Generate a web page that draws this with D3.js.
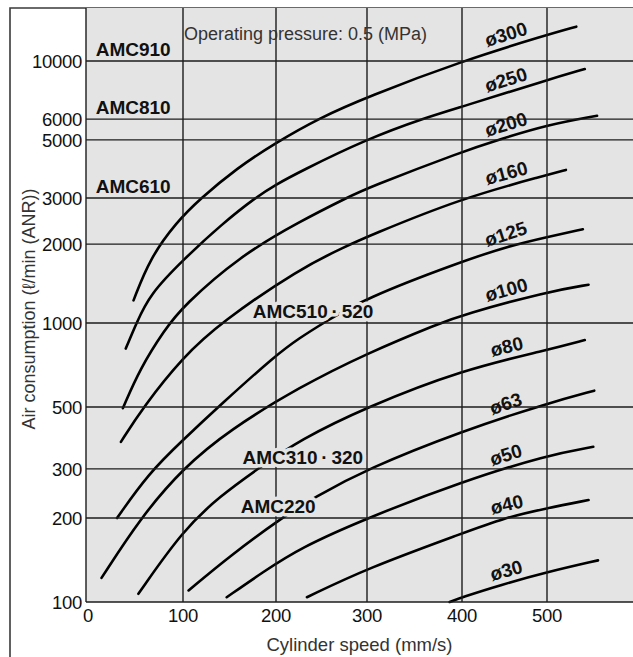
<!DOCTYPE html>
<html>
<head>
<meta charset="utf-8">
<script src="https://cdn.jsdelivr.net/npm/d3@7"></script>
<style>
  body { margin: 0; background: #fff; }
  text { font-family: "Liberation Sans", Arial, Helvetica, sans-serif; fill: #111; }
</style>
</head>
<body>
<div id="chart"></div>
<script>
// Air consumption vs cylinder speed, one curve per bore size
// each point: [cylinder speed (mm/s), air consumption (l/min ANR)]
const bore300 = [[49, 1220], [66, 1770], [93.5, 2430], [118, 2970], [158, 3900], [199, 4860], [248, 6070], [300, 7290], [400, 10000], [500, 12570], [531, 13500]];
const bore250 = [[41, 810], [52, 1000], [66, 1290], [100, 1740], [142, 2390], [179, 3030], [199, 3360], [226, 3780], [300, 5040], [361, 6070], [400, 6690], [500, 8460], [540, 9320]];
const bore200 = [[38, 495], [56, 690], [81, 945], [100, 1160], [161, 1800], [226, 2440], [280, 3030], [300, 3270], [400, 4510], [446, 5040], [500, 5700], [553, 6180]];
const bore160 = [[36, 375], [59, 500], [100, 755], [140, 1000], [226, 1615], [278, 1970], [300, 2135], [400, 3000], [500, 3670], [520, 3840]];
const bore125 = [[32, 200], [64, 288], [100, 381], [140, 508], [200, 768], [226, 884], [252, 1000], [296, 1235], [400, 1720], [456, 1970], [500, 2130], [538, 2280]];
const bore100 = [[16, 122], [56, 200], [100, 302], [150, 414], [226, 590], [300, 779], [377, 1000], [400, 1073], [500, 1317], [544, 1400]];
const bore80 = [[54, 107], [100, 181], [140, 240], [181, 301], [226, 381], [300, 500], [400, 679], [500, 800], [540, 869]];
const bore63 = [[106, 110], [150, 146], [207, 201], [241, 236], [300, 300], [400, 410], [500, 515], [550, 572]];
const bore50 = [[147, 104], [186, 128], [226, 156], [300, 200], [400, 270], [500, 336], [549, 360]];
const bore40 = [[234, 104], [300, 132], [400, 176], [449, 200], [500, 217], [544, 232]];
const bore30 = [[387, 100], [400, 104], [445, 115], [500, 128], [554, 141]];

const boreLabels = ["ø300", "ø250", "ø200", "ø160", "ø125", "ø100", "ø80", "ø63", "ø50", "ø40", "ø30"];
const boreSeries = [bore300, bore250, bore200, bore160, bore125, bore100, bore80, bore63, bore50, bore40, bore30];

// air saver model bands and the flow line each name sits on
const models = ["AMC910", "AMC810", "AMC610", "AMC510\u2009·\u2009520", "AMC310\u2009·\u2009320", "AMC220"];
const modelFlow = [10000, 6000, 3000, 1000, 300, 200];
const modelSpeed = [10, 10, 10, 175, 164, 162];

const xTicks = [0, 100, 200, 300, 400, 500];
const yTicks = [100, 200, 300, 500, 1000, 2000, 3000, 5000, 6000, 10000];

const W = 633, H = 657;
const plot = { left: 86, top: 8, right: 633, bottom: 602 };

const svg = d3.select("#chart").append("svg")
    .attr("width", W)
    .attr("height", H);

// the printed grid is hand spaced, so the scales follow the gridlines
const x = d3.scaleLinear()
    .domain([0, 100, 200, 300, 400, 500, 590])
    .range([plot.left, 183, 276, 367, 462, 547, 632]);

const y = d3.scaleLog()
    .domain([100, 1000, 10000, 15900])
    .range([plot.bottom, 323, 61, plot.top]);

// outer frame (left and top)
svg.append("path")
    .attr("d", `M10,${H}V${plot.top}H${W}`)
    .attr("fill", "none")
    .attr("stroke", "#3a3a3a")
    .attr("stroke-width", 1.6);

// plot background
svg.append("rect")
    .attr("x", plot.left)
    .attr("y", plot.top)
    .attr("width", plot.right - plot.left)
    .attr("height", plot.bottom - plot.top)
    .attr("fill", "#e4e4e4");

// curves (basis smooths out the reading noise)
const line = d3.line()
    .x(d => x(d[0]))
    .y(d => y(d[1]))
    .curve(d3.curveBasis);

svg.append("g")
    .selectAll("path")
    .data(boreSeries)
    .join("path")
    .attr("d", line)
    .attr("fill", "none")
    .attr("stroke", "#000")
    .attr("stroke-width", 2.6)
    .attr("stroke-linecap", "round");

// model labels: halo knocks the curves out behind the text
const modelG = svg.append("g")
    .style("font-weight", "bold")
    .style("font-size", "19px");

modelG.selectAll(".halo")
    .data(models)
    .join("text")
    .attr("class", "halo")
    .attr("x", (d, i) => x(modelSpeed[i]))
    .attr("y", (d, i) => y(modelFlow[i]) - 5)
    .attr("stroke", "#e4e4e4")
    .attr("stroke-width", 7)
    .attr("stroke-linejoin", "round")
    .style("fill", "#e4e4e4")
    .text(d => d);

// gridlines
const grid = svg.append("g")
    .attr("stroke", "#1c1c1c")
    .attr("stroke-width", 1.4);

grid.selectAll(".vline")
    .data(xTicks)
    .join("line")
    .attr("class", "vline")
    .attr("x1", d => x(d))
    .attr("x2", d => x(d))
    .attr("y1", plot.top)
    .attr("y2", plot.bottom);

grid.selectAll(".hline")
    .data(yTicks)
    .join("line")
    .attr("class", "hline")
    .attr("x1", plot.left)
    .attr("x2", plot.right)
    .attr("y1", d => y(d))
    .attr("y2", d => y(d));

modelG.raise();
modelG.selectAll(".name")
    .data(models)
    .join("text")
    .attr("class", "name")
    .attr("x", (d, i) => x(modelSpeed[i]))
    .attr("y", (d, i) => y(modelFlow[i]) - 5)
    .text(d => d);

// bore labels, placed along each curve near the right end
const labelSpeed = 456;
function pointAt(series, v) {
    const pts = series.map(p => [x(p[0]), y(p[1])]);
    const px = x(v);
    let i = pts.findIndex((p, k) => k < pts.length - 1 && pts[k + 1][0] >= px);
    if (i < 0) i = pts.length - 2;
    const a = pts[i], b = pts[i + 1];
    const t = (px - a[0]) / (b[0] - a[0]);
    const angle = Math.atan2(b[1] - a[1], b[0] - a[0]) * 180 / Math.PI;
    return { x: px, y: a[1] + t * (b[1] - a[1]), angle };
}

svg.append("g")
    .selectAll("text")
    .data(boreLabels)
    .join("text")
    .attr("transform", (d, i) => {
        const p = pointAt(boreSeries[i], labelSpeed);
        return `translate(${p.x},${p.y}) rotate(${p.angle})`;
    })
    .attr("y", -6)
    .attr("text-anchor", "middle")
    .style("font-weight", "bold")
    .style("font-size", "19px")
    .text(d => d);

// tick labels
svg.append("g")
    .selectAll("text")
    .data(yTicks)
    .join("text")
    .attr("x", plot.left - 4)
    .attr("y", d => y(d))
    .attr("dy", "0.36em")
    .attr("text-anchor", "end")
    .style("font-size", "18.5px")
    .style("letter-spacing", "-0.3px")
    .text(d => d);

svg.append("g")
    .selectAll("text")
    .data(xTicks)
    .join("text")
    .attr("x", d => x(d) + (d === 0 ? 2 : 0))
    .attr("y", plot.bottom + 20)
    .attr("text-anchor", "middle")
    .style("font-size", "18.5px")
    .style("letter-spacing", "-0.3px")
    .text(d => d);

// titles
svg.append("text")
    .attr("x", x(100) + 1)
    .attr("y", 40)
    .style("font-size", "18px")
    .style("fill", "#333")
    .text("Operating pressure: 0.5 (MPa)");

svg.append("text")
    .attr("x", (plot.left + plot.right) / 2)
    .attr("y", 651)
    .attr("text-anchor", "middle")
    .style("font-size", "18.5px")
    .style("fill", "#333")
    .text("Cylinder speed (mm/s)");

svg.append("text")
    .attr("transform", "translate(35,309) rotate(-90)")
    .attr("text-anchor", "middle")
    .style("font-size", "18px")
    .style("fill", "#333")
    .text("Air consumption (ℓ/min (ANR))");
</script>
</body>
</html>
